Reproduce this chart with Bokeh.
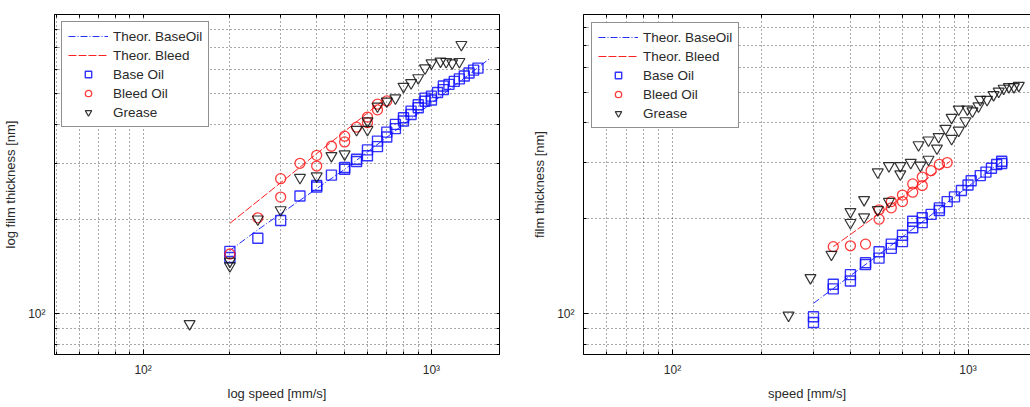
from bokeh.plotting import figure
from bokeh.models import FixedTicker, LogAxis, Legend, LegendItem, Range1d
from bokeh.layouts import row
from bokeh.embed import file_html
from bokeh.resources import INLINE

# ---------------- data: left panel (log speed / log film thickness) ----------------
L_base_speed = [200, 200, 250, 300, 350, 400, 400, 450, 500, 500, 550, 550, 600, 600, 650, 650, 700, 700,
                750, 750, 800, 800, 850, 850, 900, 900, 950, 950, 1000, 1000, 1050, 1100, 1100, 1150, 1200,
                1250, 1300, 1350, 1400, 1450]
L_base_film = [151, 158, 174, 198, 237, 253, 256, 276, 288, 292, 305, 310, 332, 318, 354, 340, 378, 365,
               400, 388, 420, 410, 441, 430, 452, 462, 474, 485, 492, 478, 505, 516, 530, 536, 548,
               558, 570, 583, 595, 604]
L_bleed_speed = [200, 250, 300, 300, 350, 400, 400, 450, 500, 500, 550, 600, 600, 650, 650, 700]
L_bleed_film = [155, 202, 269, 235, 301, 319, 295, 341, 367, 352, 392, 422, 405, 464, 445, 475]
L_grease_speed = [145, 200, 200, 250, 300, 350, 400, 450, 500, 550, 600, 600, 650, 700, 750, 800, 850,
                  900, 950, 1000, 1075, 1125, 1180, 1250, 1270]
L_grease_film = [93, 142, 147, 200, 214, 271, 274, 318, 322, 385, 410, 385, 457, 474, 485, 528, 542,
                 562, 604, 627, 635, 633, 627, 633, 717]
L_theo_base_speed = [200, 250, 300, 400, 500, 600, 700, 800, 1000, 1200, 1400, 1600]
L_theo_base_film = [159, 185, 208, 250, 288, 327, 364, 400, 467, 531, 591, 650]
L_theo_bleed_speed = [200, 300, 400, 500, 600, 700]
L_theo_bleed_film = [194, 261, 323, 380, 435, 487]

# ---------------- data: right panel (speed / film thickness) ----------------
R_base_speed = [300, 300, 350, 350, 400, 400, 450, 450, 500, 500, 550, 550, 600, 600, 650, 650, 700, 700,
                750, 800, 800, 850, 900, 950, 1000, 1025, 1100, 1150, 1200, 1250, 1300, 1300]
R_base_film = [98, 94, 124, 120, 133, 127, 143, 145, 157, 150, 166, 161, 177, 169, 196, 187, 201, 194,
               206, 216, 212, 226, 234, 245, 255, 263, 273, 280, 288, 296, 303, 298]
R_bleed_speed = [350, 400, 450, 500, 500, 550, 550, 600, 600, 650, 650, 700, 700, 750, 800, 850]
R_bleed_film = [163, 164, 166, 199, 213, 226, 216, 237, 226, 242, 257, 254, 270, 283, 296, 300]
R_grease_speed = [247, 293, 345, 400, 400, 445, 445, 495, 540, 495, 540, 590, 590, 640, 690, 735, 680,
                  735, 795, 785, 840, 880, 880, 930, 980, 930, 995, 1035, 1085, 1100, 1160, 1220, 1270,
                  1320, 1375, 1430, 1485]
R_grease_film = [99, 130, 154, 194, 210, 202, 229, 213, 226, 280, 293, 293, 276, 300, 294, 307, 341,
                 353, 362, 333, 384, 357, 416, 379, 406, 442, 442, 436, 452, 474, 474, 491, 503,
                 514, 520, 520, 525]
R_theo_base_speed = [300, 400, 500, 600, 700, 800, 1000, 1200, 1300]
R_theo_base_film = [108, 132, 154, 175, 195, 215, 252, 286, 302]
R_theo_bleed_speed = [350, 400, 500, 600, 700, 800, 870]
R_theo_bleed_film = [163, 178, 207, 234, 260, 285, 303]

# ---------------- ticks / labels ----------------
X_MAJOR = [100, 1000]
X_MINOR = [50, 60, 70, 80, 90, 200, 300, 400, 500, 600, 700, 800, 900]
Y_MAJOR = [100]
Y_MINOR = [80, 90, 200, 300, 400, 500, 600, 700, 800]
X_TICK_LABELS = {100: "10²", 1000: "10³"}
Y_TICK_LABELS = {100: "10²"}
LEGEND_LABELS = ["Theor. BaseOil", "Theor. Bleed", "Base Oil", "Bleed Oil", "Grease"]

FONT = "Liberation Sans"
TXT = "#2a2a2a"
GRID = "#505050"


def style_axis(ax, labels):
    ax.major_tick_in = 5
    ax.major_tick_out = 0
    ax.minor_tick_in = 3
    ax.minor_tick_out = 0
    ax.axis_line_color = "black"
    ax.major_tick_line_color = "black"
    ax.minor_tick_line_color = "black"
    ax.major_label_text_font = FONT
    ax.major_label_text_font_size = "12px"
    ax.major_label_text_color = TXT
    ax.axis_label_text_font = FONT
    ax.axis_label_text_font_size = "13px"
    ax.axis_label_text_font_style = "normal"
    ax.axis_label_text_color = TXT
    if labels is not None:
        ax.major_label_overrides = labels


def panel(width, borders, xr, yr, xlabel, ylabel, data, legend_margin, right_box):
    bl, br, bt, bb = borders
    p = figure(width=width, height=406, x_axis_type="log", y_axis_type="log",
               x_range=Range1d(*xr), y_range=Range1d(*yr),
               output_backend="svg", toolbar_location=None,
               min_border_left=bl, min_border_right=br, min_border_top=bt, min_border_bottom=bb,
               background_fill_color="white", border_fill_color="white")
    xt = FixedTicker(ticks=X_MAJOR, minor_ticks=X_MINOR)
    yt = FixedTicker(ticks=Y_MAJOR, minor_ticks=Y_MINOR)
    p.xaxis.ticker = xt
    p.yaxis.ticker = yt
    p.xgrid.ticker = xt
    p.ygrid.ticker = yt
    for g in (p.xgrid, p.ygrid):
        g.grid_line_color = GRID
        g.grid_line_dash = "1 3"
        g.grid_line_width = 1
        g.minor_grid_line_color = GRID
        g.minor_grid_line_dash = "1 3"
        g.minor_grid_line_width = 1
    p.xaxis.axis_label = xlabel
    p.yaxis.axis_label = ylabel
    style_axis(p.xaxis[0], X_TICK_LABELS)
    style_axis(p.yaxis[0], Y_TICK_LABELS)
    p.xaxis.major_label_standoff = 8
    p.yaxis.major_label_standoff = 9
    p.xaxis.axis_label_standoff = 6
    p.yaxis.axis_label_standoff = 7

    top = LogAxis(ticker=FixedTicker(ticks=[], minor_ticks=X_MAJOR + X_MINOR))
    style_axis(top, None)
    p.add_layout(top, "above")
    if right_box:
        p.outline_line_color = "black"
        rgt = LogAxis(ticker=FixedTicker(ticks=[], minor_ticks=Y_MAJOR + Y_MINOR))
        style_axis(rgt, None)
        p.add_layout(rgt, "right")
    else:
        p.outline_line_color = None

    (tbx, tby), (tlx, tly), (bx, by), (lx, ly), (gx, gy) = data
    r_tb = p.line(tbx, tby, line_color="#2030ff", line_width=1, line_dash="7 2 1 2")
    r_tl = p.line(tlx, tly, line_color="#ff2020", line_width=1, line_dash="8 2")
    r_b = p.scatter(bx, by, marker="square", size=10, fill_color=None, line_color="#1010ff",
                    line_width=1.4, line_alpha=0.85)
    r_l = p.scatter(lx, ly, marker="circle", size=10, fill_color=None, line_color="#ff1a1a",
                    line_width=1.3, line_alpha=0.85)
    r_g = p.scatter(gx, gy, marker="inverted_triangle", size=11, fill_color=None, line_color="#111111",
                    line_width=1.2, line_alpha=0.85)

    items = [LegendItem(label=lab, renderers=[r]) for lab, r in
             zip(LEGEND_LABELS, [r_tb, r_tl, r_b, r_l, r_g])]
    leg = Legend(items=items, location="top_left", margin=legend_margin, padding=6, spacing=3,
                 glyph_width=40, glyph_height=16, label_height=16, label_standoff=5,
                 label_text_font=FONT, label_text_font_size="13.5px", label_text_color=TXT,
                 border_line_color="#222222", border_line_width=1.5,
                 background_fill_color="white", background_fill_alpha=1.0)
    p.add_layout(leg)
    return p


left = panel(505, (53, 6, 13, 52), (49.3, 1722), (74.3, 894),
             "log speed [mm/s]", "log film thickness [nm]",
             [(L_theo_base_speed, L_theo_base_film), (L_theo_bleed_speed, L_theo_bleed_film),
              (L_base_speed, L_base_film), (L_bleed_speed, L_bleed_film),
              (L_grease_speed, L_grease_film)],
             7, True)

right = panel(525, (78, 0, 14, 42), (50, 1627), (74.5, 879),
              "speed [mm/s]", "film thickness [nm]",
              [(R_theo_base_speed, R_theo_base_film), (R_theo_bleed_speed, R_theo_bleed_film),
               (R_base_speed, R_base_film), (R_bleed_speed, R_bleed_film),
               (R_grease_speed, R_grease_film)],
              8, False)

layout = row(left, right)
open("out.html", "w").write(file_html(layout, INLINE))
